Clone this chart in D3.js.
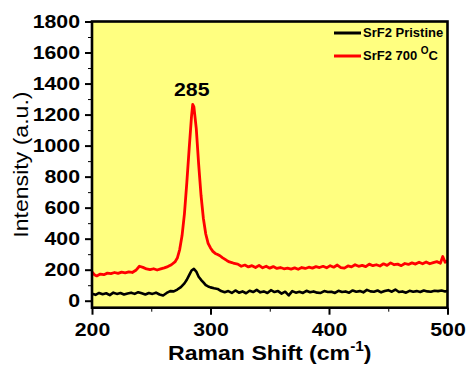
<!DOCTYPE html>
<html>
<head>
<meta charset="utf-8">
<script src="https://cdn.jsdelivr.net/npm/d3@7"></script>
<style>
  body { margin: 0; background: #fff; }
  svg { display: block; font-family: "Liberation Sans", Arial, sans-serif; }
</style>
</head>
<body>
<svg id="chart" width="467" height="365"></svg>
<script>
// Raman spectra, [shift (cm-1), intensity (a.u.)]
const pristine = [
  [200,45],[203,38],[206,50],[209,42],[212,48],[215,36],[218,52],[221,44],[224,50],[227,40],
  [230,47],[233,52],[236,44],[239,55],[242,48],[245,40],[248,50],[251,44],[254,52],[257,40],
  [260,34],[263,50],[266,62],[269,60],[272,72],[275,88],[278,112],[280,135],[282,165],[284,195],
  [286,205],[288,188],[290,155],[292,135],[294,118],[296,100],[298,92],[300,86],[303,80],[306,76],
  [309,62],[312,55],[315,62],[318,50],[321,66],[324,52],[327,60],[330,48],[333,64],[336,56],
  [339,70],[342,54],[345,60],[348,50],[351,68],[354,56],[357,62],[360,46],[363,58],[366,34],
  [369,62],[372,52],[375,58],[378,50],[381,64],[384,55],[387,60],[390,52],[393,50],[396,62],
  [399,56],[402,58],[405,50],[408,64],[411,56],[414,60],[417,52],[420,66],[423,58],[426,62],
  [429,54],[432,70],[435,60],[438,58],[441,66],[444,54],[447,62],[450,68],[453,58],[456,72],
  [459,56],[462,60],[465,52],[468,64],[471,58],[474,62],[477,56],[480,66],[483,60],[486,58],
  [489,64],[492,62],[495,66],[498,60],[500,64]
];

const annealed = [
  [200,185],[202,168],[204,160],[207,172],[210,168],[213,178],[216,175],[219,182],[222,176],[225,184],
  [228,180],[231,186],[234,182],[237,196],[240,222],[243,215],[246,205],[249,200],[252,206],[255,198],
  [258,205],[261,212],[264,220],[267,232],[270,250],[272,275],[274,330],[276,420],[278,560],[280,760],
  [282,980],[284,1190],[285,1265],[286,1250],[288,1110],[290,880],[292,680],[294,530],[296,430],[298,370],
  [300,340],[302,318],[304,305],[306,298],[308,290],[310,278],[312,268],[314,258],[316,250],[318,246],
  [320,240],[323,236],[326,222],[329,230],[332,218],[335,226],[338,214],[341,228],[344,212],[347,222],
  [350,210],[353,220],[356,208],[359,214],[362,206],[365,210],[368,204],[371,212],[374,203],[377,214],
  [380,208],[383,216],[386,210],[389,220],[392,214],[395,222],[398,212],[401,226],[404,216],[407,230],
  [410,214],[413,210],[416,224],[419,218],[422,232],[425,222],[428,228],[431,220],[434,236],[437,226],
  [440,232],[443,224],[446,238],[449,228],[452,244],[455,232],[458,236],[461,226],[464,240],[467,234],
  [470,244],[473,236],[476,248],[479,238],[482,250],[485,238],[488,246],[491,252],[494,242],[496,285],
  [498,248],[500,256]
];

const xTicks = [200, 300, 400, 500];
const xMinor = [250, 350, 450];
const yTicks = [0, 200, 400, 600, 800, 1000, 1200, 1400, 1600, 1800];
const yMinor = [100, 300, 500, 700, 900, 1100, 1300, 1500, 1700];
const peakLabel = { x: 285, y: 1265, text: "285" };

const plotL = 92, plotR = 447.5, plotT = 21.5, plotB = 307.7;
const sx = 1.12; // the source text is a bit wide

const svg = d3.select("#chart");

const x = d3.scaleLinear().domain([200, 500]).range([plotL, plotR]);
const y = d3.scaleLinear().domain([-45, 1800]).range([plotB, plotT]);

// plot background
svg.append("rect")
   .attr("x", plotL).attr("y", plotT)
   .attr("width", plotR - plotL).attr("height", plotB - plotT)
   .attr("fill", "#ffff80");

const line = d3.line()
   .x(d => x(d[0]))
   .y(d => y(d[1]));

svg.append("path")
   .datum(pristine)
   .attr("fill", "none")
   .attr("stroke", "#000")
   .attr("stroke-width", 2.6)
   .attr("stroke-linejoin", "round")
   .attr("d", line);

svg.append("path")
   .datum(annealed)
   .attr("fill", "none")
   .attr("stroke", "#ff0000")
   .attr("stroke-width", 2.8)
   .attr("stroke-linejoin", "round")
   .attr("d", line);

// frame
svg.append("rect")
   .attr("x", plotL).attr("y", plotT)
   .attr("width", plotR - plotL).attr("height", plotB - plotT)
   .attr("fill", "none")
   .attr("stroke", "#000")
   .attr("stroke-width", 2.6);

// minor ticks
svg.append("g")
   .attr("transform", `translate(${plotL},0)`)
   .call(d3.axisLeft(y).tickValues(yMinor).tickSize(4).tickFormat(""))
   .call(g => g.select(".domain").remove());

svg.append("g")
   .attr("transform", `translate(0,${plotB})`)
   .call(d3.axisBottom(x).tickValues(xMinor).tickSize(4).tickFormat(""))
   .call(g => g.select(".domain").remove());

// major ticks + labels
const yAxis = svg.append("g")
   .attr("transform", `translate(${plotL},0)`)
   .call(d3.axisLeft(y).tickValues(yTicks).tickSize(7).tickPadding(5).tickFormat(d3.format("d")))
   .call(g => g.select(".domain").remove());

yAxis.selectAll("line").attr("stroke-width", 2);
yAxis.selectAll("text")
   .attr("font-size", 19)
   .attr("font-weight", "bold")
   .attr("fill", "#000")
   .attr("font-family", "Liberation Sans, Arial, sans-serif")
   .attr("x", -12 / sx)
   .attr("transform", `scale(${sx},1)`);

const xAxis = svg.append("g")
   .attr("transform", `translate(0,${plotB})`)
   .call(d3.axisBottom(x).tickValues(xTicks).tickSize(7).tickPadding(8).tickFormat(d3.format("d")))
   .call(g => g.select(".domain").remove());

xAxis.selectAll("line").attr("stroke-width", 2);
xAxis.selectAll("text")
   .attr("font-size", 19)
   .attr("font-weight", "bold")
   .attr("fill", "#000")
   .attr("font-family", "Liberation Sans, Arial, sans-serif")
   .attr("transform", `scale(${sx},1)`);

svg.selectAll(".tick line").attr("stroke", "#000");

// axis titles
const xTitle = svg.append("text")
   .attr("transform", `translate(${(plotL + plotR) / 2},360) scale(1.1,1)`)
   .attr("text-anchor", "middle")
   .attr("font-size", 21)
   .attr("font-weight", "bold");
xTitle.append("tspan").text("Raman Shift (cm");
xTitle.append("tspan").attr("font-size", 14).attr("dy", -9).text("-1");
xTitle.append("tspan").attr("dy", 9).text(")");

svg.append("text")
   .attr("transform", `translate(28,${(plotT + plotB) / 2}) rotate(-90) scale(1.1,1)`)
   .attr("text-anchor", "middle")
   .attr("font-size", 21)
   .text("Intensity (a.u.)");

// peak label
svg.append("text")
   .attr("transform", `translate(${x(peakLabel.x) - 1},96) scale(${sx},1)`)
   .attr("text-anchor", "middle")
   .attr("font-size", 19)
   .attr("font-weight", "bold")
   .text(peakLabel.text);

// legend
const legend = svg.append("g").attr("font-size", 13).attr("font-weight", "bold");
const items = [
  { color: "#000", y: 33, label: "SrF2 Pristine" },
  { color: "#ff0000", y: 56, label: "SrF2 700 " }
];
items.forEach((d, i) => {
  legend.append("line")
     .attr("x1", 334).attr("x2", 361)
     .attr("y1", d.y).attr("y2", d.y)
     .attr("stroke", d.color)
     .attr("stroke-width", 3);
  const t = legend.append("text")
     .attr("x", 363).attr("y", d.y + 4)
     .text(d.label);
  if (i === 1) {
    t.append("tspan").attr("font-size", 10).attr("dy", -6).text("O");
    t.append("tspan").attr("dy", 6).text("C");
  }
});
</script>
</body>
</html>
